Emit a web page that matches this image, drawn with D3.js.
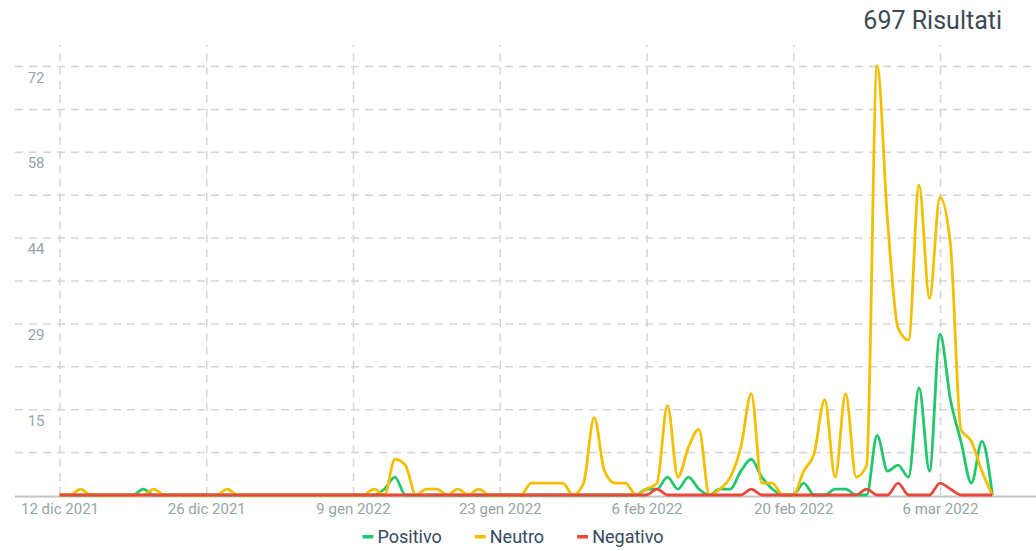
<!DOCTYPE html>
<html>
<head>
<meta charset="utf-8">
<script src="https://cdn.jsdelivr.net/npm/d3@7"></script>
<style>
  body { margin: 0; background: #fff; font-family: Roboto, "Noto Sans", sans-serif; }
</style>
</head>
<body>
<div id="chart"></div>
<script>
// daily counts, 12 dic 2021 -> 11 mar 2022
var firstDay = "2021-12-12";
var lastDay = "2022-03-11";

var positivo = [
  0,0,0,0,0,0,0,0,1,0,
  0,0,0,0,0,0,0,0,0,0,
  0,0,0,0,0,0,0,0,0,0,
  0,1,3,0,0,0,0,0,0,0,
  0,0,0,0,0,0,0,0,0,0,
  0,0,0,0,0,0,1,1,3,1,
  3,1,0,1,1,4,6,3,1,0,
  0,2,0,0,1,1,0,0,10,4,
  5,3,18,4,27,16,9,2,9,0
];

var neutro = [
  0,0,1,0,0,0,0,0,0,1,
  0,0,0,0,0,0,1,0,0,0,
  0,0,0,0,0,0,0,0,0,0,
  1,0,6,5,0,1,1,0,1,0,
  1,0,0,0,0,2,2,2,2,0,
  2,13,4,2,2,0,1,2,15,3,
  8,11,0,1,3,8,17,2,2,0,
  0,4,7,16,3,17,3,5,72,46,
  28,26,52,33,50,42,11,9,4,0
];

var negativo = [
  0,0,0,0,0,0,0,0,0,0,
  0,0,0,0,0,0,0,0,0,0,
  0,0,0,0,0,0,0,0,0,0,
  0,0,0,0,0,0,0,0,0,0,
  0,0,0,0,0,0,0,0,0,0,
  0,0,0,0,0,0,0,1,0,0,
  0,0,0,0,0,0,1,0,0,0,
  0,0,0,0,0,0,0,1,0,0,
  2,0,0,0,2,1,0,0,0,0
];

var seriesNames = ["Positivo", "Neutro", "Negativo"];
var seriesColors = ["#22c76b", "#f4bf00", "#e8493b"];

var xTickDays = ["2021-12-12", "2021-12-26", "2022-01-09", "2022-01-23",
                 "2022-02-06", "2022-02-20", "2022-03-06"];

// y grid every 7.2, labels on every other line
var yGridValues = [7.2, 14.4, 21.6, 28.8, 36, 43.2, 50.4, 57.6, 64.8, 72];
var yLabelValues = [14.4, 28.8, 43.2, 57.6, 72];
var yLabels = ["15", "29", "44", "58", "72"];

var totalLabel = "697 Risultati";

var width = 1036, height = 551;

var parseDay = d3.utcParse("%Y-%m-%d");
var days = d3.utcDay.range(parseDay(firstDay), d3.utcDay.offset(parseDay(lastDay), 1));

var it = d3.timeFormatLocale({
  dateTime: "%A %e %B %Y, %X", date: "%d/%m/%Y", time: "%H:%M:%S",
  periods: ["AM", "PM"],
  days: ["Domenica","Lunedì","Martedì","Mercoledì","Giovedì","Venerdì","Sabato"],
  shortDays: ["Dom","Lun","Mar","Mer","Gio","Ven","Sab"],
  months: ["Gennaio","Febbraio","Marzo","Aprile","Maggio","Giugno","Luglio","Agosto","Settembre","Ottobre","Novembre","Dicembre"],
  shortMonths: ["gen","feb","mar","apr","mag","giu","lug","ago","set","ott","nov","dic"]
});
var fmtDay = it.utcFormat("%-d %b %Y");

var svg = d3.select("#chart").append("svg")
  .attr("width", width)
  .attr("height", height);

var x = d3.scaleUtc()
  .domain([days[0], days[days.length - 1]])
  .range([59.5, 992.4]);

var y = d3.scaleLinear()
  .domain([0, 72])
  .range([495, 66]);

// horizontal grid
var yGrid = svg.append("g")
  .attr("transform", "translate(15,0)")
  .call(d3.axisLeft(y).tickValues(yGridValues).tickSize(-(width - 15)).tickFormat(""));
yGrid.select(".domain").remove();
yGrid.selectAll(".tick line")
  .attr("stroke", "#d6d6d6")
  .attr("stroke-width", 1.5)
  .attr("stroke-dasharray", "8,6");

// vertical grid + date labels
var xAxis = svg.append("g")
  .attr("transform", "translate(0,495)")
  .call(d3.axisBottom(x)
    .tickValues(xTickDays.map(parseDay))
    .tickSize(-450)
    .tickPadding(8)
    .tickFormat(fmtDay));
xAxis.select(".domain").remove();
xAxis.selectAll(".tick line")
  .attr("stroke", "#d6d6d6")
  .attr("stroke-width", 1.5)
  .attr("stroke-dasharray", "8,6");
xAxis.selectAll(".tick text")
  .attr("fill", "#95a5a6")
  .attr("font-size", "15px")
  .attr("font-family", "Roboto, sans-serif");

// y labels, sitting just under their grid line
svg.append("g").selectAll("text")
  .data(yLabelValues)
  .enter().append("text")
    .attr("x", 44.5)
    .attr("y", function(d) { return y(d) + 16.5; })
    .attr("text-anchor", "end")
    .attr("fill", "#95a5a6")
    .attr("font-size", "15px")
    .text(function(d, i) { return yLabels[i]; });

// baseline
svg.append("line")
  .attr("x1", 15).attr("x2", width)
  .attr("y1", 496.5).attr("y2", 496.5)
  .attr("stroke", "#c4c4c4")
  .attr("stroke-width", 2);

// lines
var line = d3.line()
  .x(function(d, i) { return x(days[i]); })
  .y(function(d) { return y(d); })
  .curve(d3.curveMonotoneX);

[positivo, neutro, negativo].forEach(function(values, k) {
  svg.append("path")
    .datum(values)
    .attr("fill", "none")
    .attr("stroke", seriesColors[k])
    .attr("stroke-width", 2.8)
    .attr("stroke-linejoin", "round")
    .attr("d", line);
});

// title
svg.append("text")
  .attr("x", 1002)
  .attr("y", 29)
  .attr("text-anchor", "end")
  .attr("fill", "#3b4953")
  .attr("font-size", "25px")
  .text(totalLabel);

// legend
var legend = svg.append("g");
var lx = 0;
seriesNames.forEach(function(name, k) {
  var item = legend.append("g").attr("transform", "translate(" + lx + ",0)");
  item.append("rect")
    .attr("x", 0).attr("y", 535)
    .attr("width", 11).attr("height", 3.5)
    .attr("fill", seriesColors[k]);
  var t = item.append("text")
    .attr("x", 15)
    .attr("y", 543)
    .attr("fill", "#34495e")
    .attr("font-size", "18px")
    .text(name);
  lx += 15 + t.node().getComputedTextLength() + 33;
});
var legendWidth = lx - 33;
legend.attr("transform", "translate(" + (513 - legendWidth / 2) + ",0)");
</script>
</body>
</html>
